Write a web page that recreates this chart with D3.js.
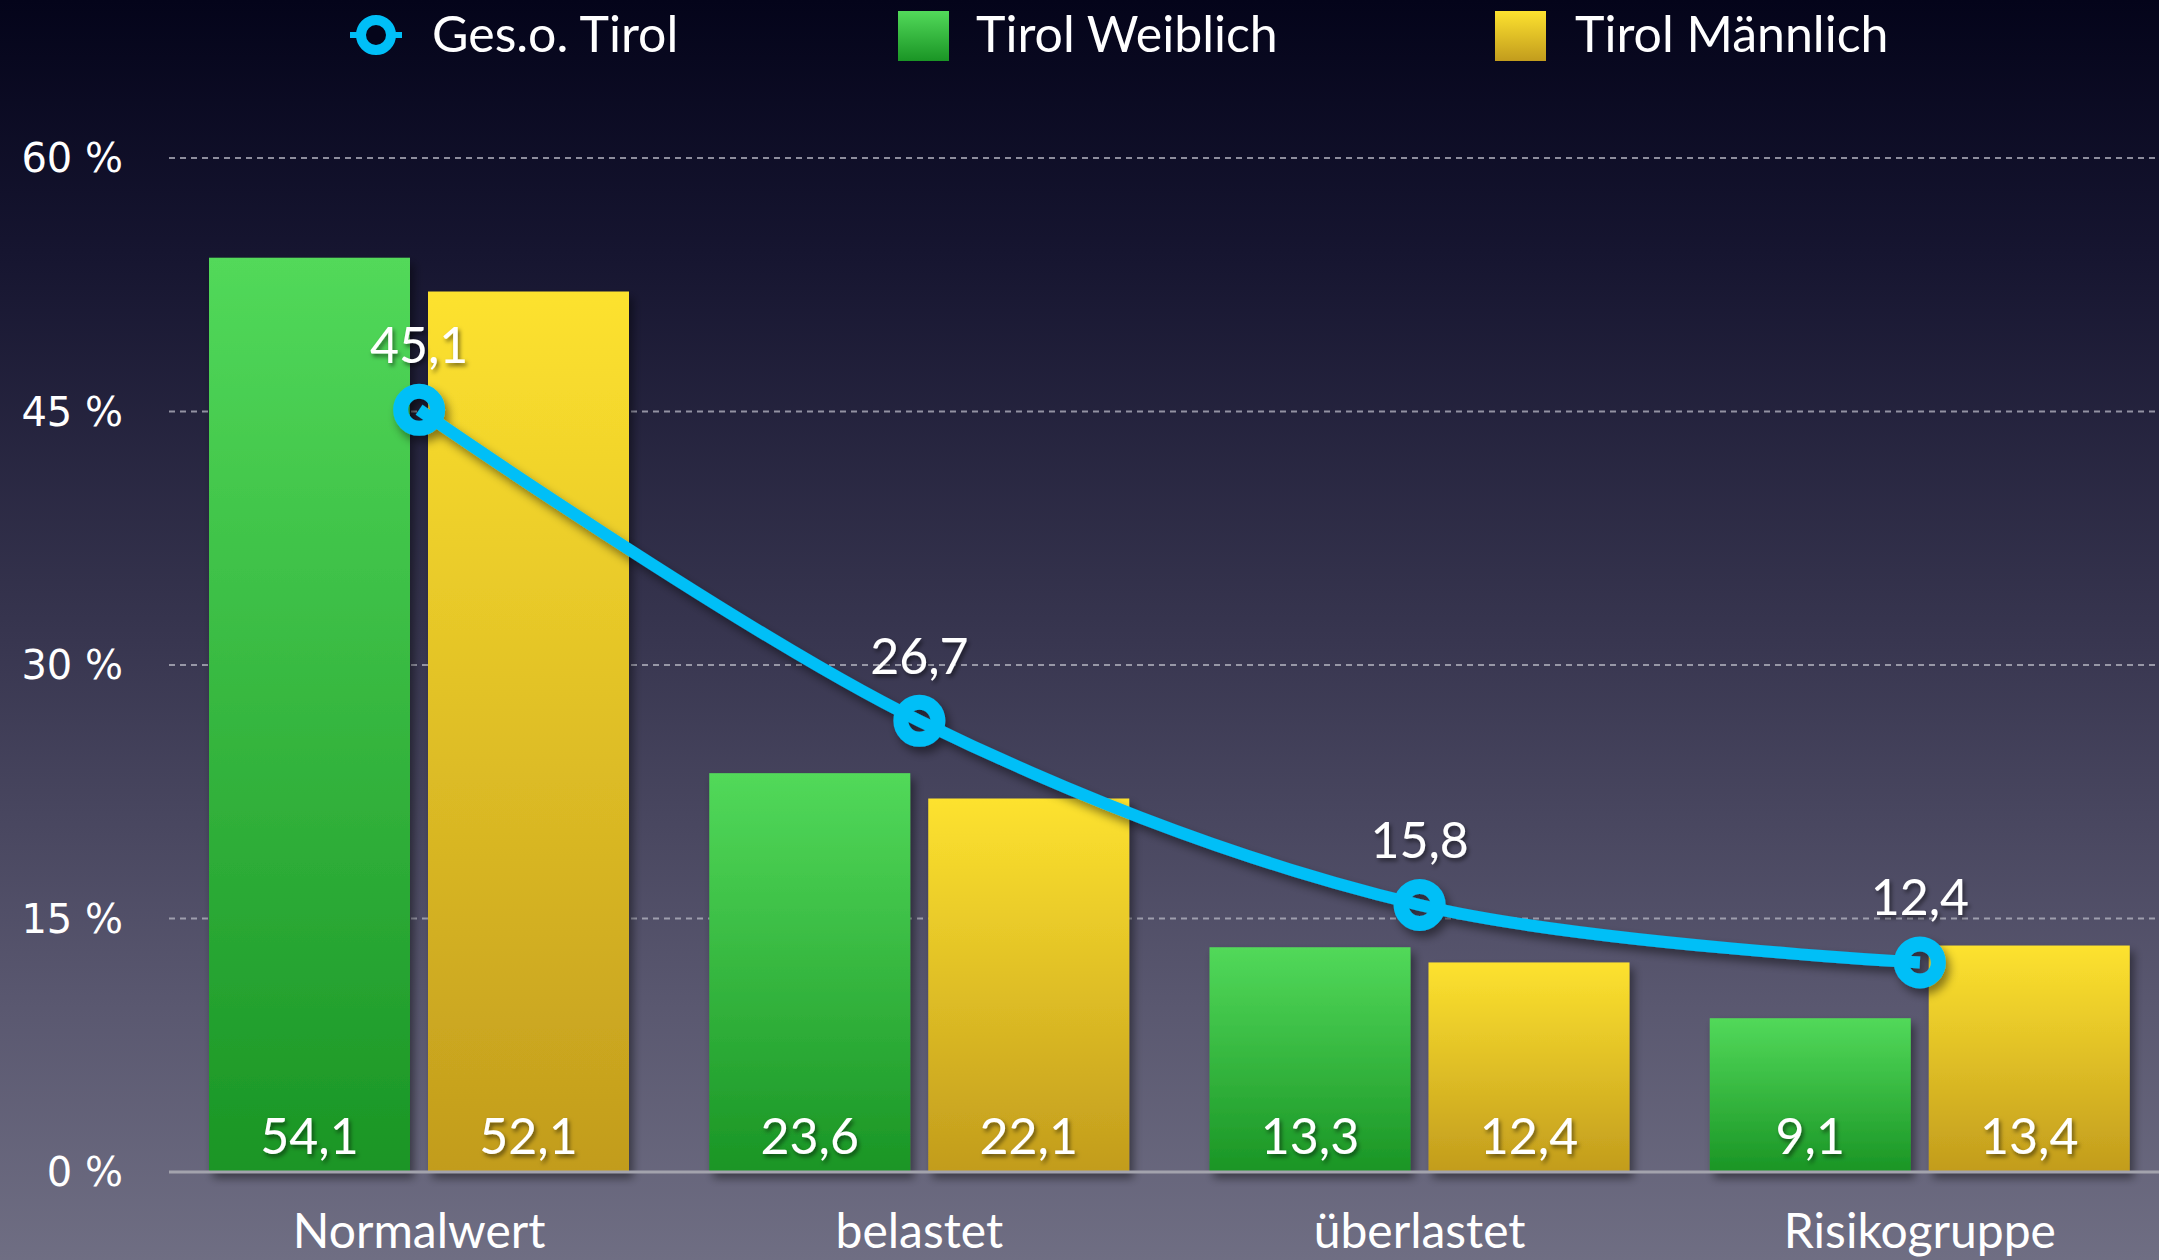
<!DOCTYPE html>
<html><head><meta charset="utf-8">
<script src="https://cdn.jsdelivr.net/npm/d3@7"></script>
<style>html,body{margin:0;padding:0;background:#05051a;}svg{display:block;}</style>
</head><body>
<svg id="chart" width="2159" height="1260"></svg>
<script>
const categories = ["Normalwert", "belastet", "überlastet", "Risikogruppe"];
const seriesNames = ["Ges.o. Tirol", "Tirol Weiblich", "Tirol Männlich"];
const gesamt = [45.1, 26.7, 15.8, 12.4];
const weiblich = [54.1, 23.6, 13.3, 9.1];
const maennlich = [52.1, 22.1, 12.4, 13.4];
const yTicks = [0, 15, 30, 45, 60];

const W = 2159, H = 1260;
const svg = d3.select("#chart");
const defs = svg.append("defs");
const fmt = v => d3.format(".1f")(v).replace(".", ",");

// background
const bg = defs.append("linearGradient").attr("id","bg").attr("x1",0).attr("y1",0).attr("x2",0).attr("y2",1);
[[0,"#04041a"],[0.2,"#161530"],[0.5,"#37354f"],[0.8,"#5a5870"],[1,"#6f6e83"]].forEach(([o,c])=>bg.append("stop").attr("offset",o).attr("stop-color",c));
svg.append("rect").attr("width",W).attr("height",H).attr("fill","url(#bg)");

const gG = defs.append("linearGradient").attr("id","gGreen").attr("x1",0).attr("y1",0).attr("x2",0).attr("y2",1);
gG.append("stop").attr("offset",0).attr("stop-color","#52d95a");
gG.append("stop").attr("offset",1).attr("stop-color","#1a9525");
const gY = defs.append("linearGradient").attr("id","gYellow").attr("x1",0).attr("y1",0).attr("x2",0).attr("y2",1);
gY.append("stop").attr("offset",0).attr("stop-color","#fde22f");
gY.append("stop").attr("offset",1).attr("stop-color","#c29c1d");

const sh = defs.append("filter").attr("id","shadow").attr("x","-20%").attr("y","-20%").attr("width","140%").attr("height","140%");
sh.append("feDropShadow").attr("dx",4).attr("dy",6).attr("stdDeviation",5).attr("flood-color","#000").attr("flood-opacity",0.45);
const tsh = defs.append("filter").attr("id","tshadow").attr("x","-20%").attr("y","-20%").attr("width","140%").attr("height","140%");
tsh.append("feDropShadow").attr("dx",2).attr("dy",3).attr("stdDeviation",2).attr("flood-color","#000").attr("flood-opacity",0.5);

const x0 = d3.scaleBand().domain(categories).range([169, 2170]).padding(0);
const x1 = d3.scaleBand().domain(["w","m"]).range([40, 460]).paddingInner(18/219);
const y = d3.scaleLinear().domain([0, 60]).range([1172, 158]);

// grid
const grid = svg.append("g");
grid.selectAll("line").data(yTicks.filter(t=>t>0)).join("line")
  .attr("x1",169).attr("x2",W).attr("y1",d=>y(d)).attr("y2",d=>y(d))
  .attr("stroke","#b8b8c4").attr("stroke-opacity",0.75).attr("stroke-width",2).attr("stroke-dasharray","6,5");

// y labels
svg.append("g").selectAll("text").data(yTicks).join("text")
  .attr("x",123).attr("y",d=>y(d)).attr("text-anchor","end").attr("dominant-baseline","central")
  .attr("font-family","DejaVu Sans").attr("font-size",40).attr("fill","#fff")
  .text(d=>d+" %");

// bars
const barData = [];
categories.forEach((c,i)=>{
  barData.push({c, s:"w", v:weiblich[i]});
  barData.push({c, s:"m", v:maennlich[i]});
});
svg.append("g").attr("filter","url(#shadow)").selectAll("rect").data(barData).join("rect")
  .attr("x",d=>x0(d.c)+x1(d.s)).attr("width",x1.bandwidth())
  .attr("y",d=>y(d.v)).attr("height",d=>y(0)-y(d.v))
  .attr("fill",d=>d.s==="w"?"url(#gGreen)":"url(#gYellow)");

// axis line
svg.append("line").attr("x1",169).attr("x2",W).attr("y1",y(0)).attr("y2",y(0))
  .attr("stroke","#a3a3ad").attr("stroke-width",3);

// bar labels
svg.append("g").attr("filter","url(#tshadow)").selectAll("text").data(barData).join("text")
  .attr("x",d=>x0(d.c)+x1(d.s)+x1.bandwidth()/2).attr("y",y(0)-18)
  .attr("text-anchor","middle").attr("font-family","Lato").attr("font-size",50).attr("fill","#fff")
  .text(d=>fmt(d.v));

// category labels
svg.append("g").selectAll("text").data(categories).join("text")
  .attr("x",d=>x0(d)+x0.bandwidth()/2).attr("y",1248)
  .attr("text-anchor","middle").attr("font-family","Lato").attr("font-size",48).attr("fill","#fff")
  .text(d=>d);

// line
const cx = d => x0(d)+x0.bandwidth()/2;
const lineGen = d3.line().x((d,i)=>cx(categories[i])).y(d=>y(d)).curve(d3.curveCatmullRom.alpha(0.5));
const lg = svg.append("g").attr("filter","url(#shadow)");
lg.append("path").attr("d",lineGen(gesamt)).attr("fill","none").attr("stroke","#00bff7").attr("stroke-width",12);
lg.selectAll("circle").data(gesamt).join("circle")
  .attr("cx",(d,i)=>cx(categories[i])).attr("cy",d=>y(d)).attr("r",18.5)
  .attr("fill","none").attr("stroke","#00bff7").attr("stroke-width",15);
svg.append("g").attr("filter","url(#tshadow)").selectAll("text").data(gesamt).join("text")
  .attr("x",(d,i)=>cx(categories[i])).attr("y",d=>y(d)-47)
  .attr("text-anchor","middle").attr("font-family","Lato").attr("font-size",50).attr("fill","#fff")
  .text(d=>fmt(d));

// legend
const leg = svg.append("g");
leg.append("line").attr("x1",350).attr("x2",402).attr("y1",35).attr("y2",35).attr("stroke","#00bff7").attr("stroke-width",6);
leg.append("circle").attr("cx",376).attr("cy",35).attr("r",15).attr("fill","#05051a").attr("stroke","#00bff7").attr("stroke-width",10);
leg.append("text").attr("x",432).attr("y",52).attr("font-family","Lato").attr("font-size",50).attr("fill","#fff").text(seriesNames[0]);
leg.append("rect").attr("x",898).attr("y",11).attr("width",51).attr("height",50).attr("fill","url(#gGreen)");
leg.append("text").attr("x",976).attr("y",52).attr("font-family","Lato").attr("font-size",50).attr("fill","#fff").text(seriesNames[1]);
leg.append("rect").attr("x",1495).attr("y",11).attr("width",51).attr("height",50).attr("fill","url(#gYellow)");
leg.append("text").attr("x",1575).attr("y",52).attr("font-family","Lato").attr("font-size",50).attr("fill","#fff").text(seriesNames[2]);
</script>
</body></html>
